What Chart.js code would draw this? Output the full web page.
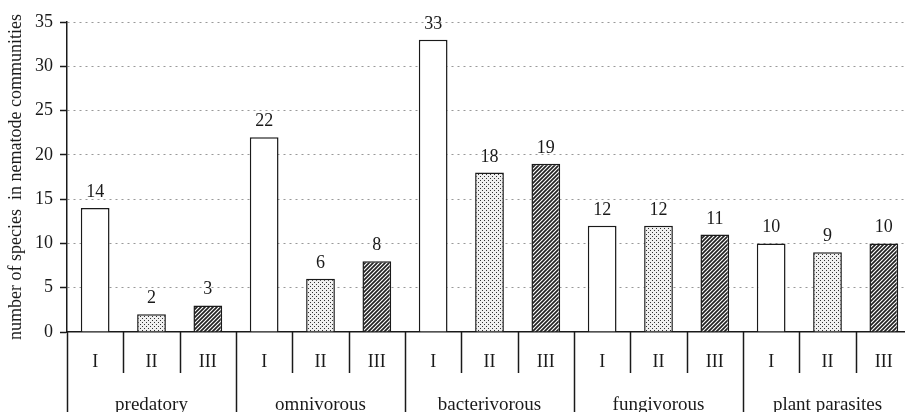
<!DOCTYPE html>
<html>
<head>
<meta charset="utf-8">
<title>Nematode communities</title>
<script src="https://cdn.jsdelivr.net/npm/chart.js@4.4.1/dist/chart.umd.min.js"></script>
<style>
    html, body { margin: 0; padding: 0; background: #fff; overflow: hidden; }
    #wrap { width: 912px; height: 412px; }
</style>
</head>
<body>
<div id="wrap"><canvas id="speciesChart" width="912" height="412"></canvas></div>
<script>
// ---------------- Data ----------------
const groups = ["predatory", "omnivorous", "bacterivorous", "fungivorous", "plant parasites"];
const subLabels = ["I", "II", "III"];
const seriesI = [14, 22, 33, 12, 10];
const seriesII = [2, 6, 18, 12, 9];
const seriesIII = [3, 8, 19, 11, 10];
const yTicks = [0, 5, 10, 15, 20, 25, 30, 35];

const FONT = "'Liberation Serif', 'DejaVu Serif', serif";
const INK = "#1a1a1a";

// ---------------- Fill Patterns ----------------
function dotPattern() {
    const c = document.createElement("canvas");
    c.width = 4; c.height = 4;
    const g = c.getContext("2d");
    g.fillStyle = "#f0f0f0";
    g.fillRect(0, 0, 4, 4);
    g.fillStyle = "#333";
    g.fillRect(0, 0, 1, 1);
    g.fillRect(2, 2, 1, 1);
    return g.createPattern(c, "repeat");
}

function hatchPattern() {
    const c = document.createElement("canvas");
    c.width = 4; c.height = 4;
    const g = c.getContext("2d");
    g.fillStyle = "#fff";
    g.fillRect(0, 0, 4, 4);
    g.strokeStyle = "#222";
    g.lineWidth = 1.7;
    g.beginPath();
    g.moveTo(-1, 5); g.lineTo(5, -1);
    g.moveTo(-1, 1); g.lineTo(1, -1);
    g.moveTo(3, 5); g.lineTo(5, 3);
    g.stroke();
    return g.createPattern(c, "repeat");
}

// ---------------- Build flat category list ----------------
const labels = [];
const values = [];
const fills = [];
const seriesList = [seriesI, seriesII, seriesIII];

document.addEventListener("DOMContentLoaded", () => {

    const fillBySeries = ["#fff", dotPattern(), hatchPattern()];

    groups.forEach((grp, gi) => {
        subLabels.forEach((sub, si) => {
            labels.push(sub);
            values.push(seriesList[si][gi]);
            fills.push(fillBySeries[si]);
        });
    });

    // ---------------- Value labels above bars ----------------
    const valueLabels = {
        id: "valueLabels",
        afterDatasetsDraw(chart) {
            const ctx = chart.ctx;
            const meta = chart.getDatasetMeta(0);
            ctx.save();
            ctx.font = "18px " + FONT;
            ctx.fillStyle = INK;
            ctx.textAlign = "center";
            ctx.textBaseline = "alphabetic";
            meta.data.forEach((bar, i) => {
                ctx.fillText(String(values[i]), bar.x, bar.y - 11);
            });
            ctx.restore();
        }
    };

    // ---------------- Two level category axis ----------------
    const groupAxis = {
        id: "groupAxis",
        afterDraw(chart) {
            const ctx = chart.ctx;
            const xs = chart.scales.x;
            const area = chart.chartArea;
            const step = (area.right - area.left) / labels.length;
            ctx.save();
            ctx.strokeStyle = INK;
            ctx.lineWidth = 1.5;
            for (let i = 0; i <= labels.length; i++) {
                const x = Math.round(area.left + i * step) + 0.5;
                const yEnd = (i % 3 === 0) ? chart.height : area.bottom + 41;
                ctx.beginPath();
                ctx.moveTo(x, area.bottom);
                ctx.lineTo(x, yEnd);
                ctx.stroke();
            }
            ctx.font = "19px " + FONT;
            ctx.fillStyle = INK;
            ctx.textAlign = "center";
            ctx.textBaseline = "alphabetic";
            groups.forEach((grp, gi) => {
                const cx = xs.getPixelForValue(gi * 3 + 1);
                ctx.fillText(grp, cx, area.bottom + 78);
            });
            ctx.restore();
        }
    };

    // ---------------- Create Chart ----------------
    const canvas = document.getElementById("speciesChart");
    new Chart(canvas.getContext("2d"), {
        type: "bar",
        data: {
            labels: labels,
            datasets: [{
                data: values,
                backgroundColor: fills,
                borderColor: INK,
                borderWidth: 1.5,
                borderSkipped: "bottom",
                barPercentage: 0.51,
                categoryPercentage: 1.0
            }]
        },
        options: {
            responsive: false,
            animation: false,
            layout: { padding: { top: 22, right: 0, bottom: 0, left: 0 } },
            plugins: {
                legend: { display: false },
                tooltip: { enabled: false }
            },
            scales: {
                x: {
                    offset: true,
                    grid: { display: false, drawTicks: false },
                    border: { display: true, color: INK, width: 1.5 },
                    ticks: {
                        color: INK,
                        padding: 19,
                        maxRotation: 0,
                        autoSkip: false,
                        font: { family: FONT, size: 18 }
                    },
                    afterFit(scale) { scale.height = 80; }
                },
                y: {
                    min: 0,
                    max: 35,
                    afterBuildTicks(scale) {
                        scale.ticks = yTicks.map(v => ({ value: v }));
                    },
                    grid: {
                        color: ctx => (ctx.tick && ctx.tick.value === 0) ? "rgba(0,0,0,0)" : "#999",
                        lineWidth: 1,
                        tickLength: 7,
                        tickColor: INK,
                        tickWidth: 1.5,
                        tickBorderDash: []
                    },
                    border: { display: true, color: INK, width: 1.5, dash: [2, 4] },
                    ticks: {
                        color: INK,
                        padding: 7,
                        font: { family: FONT, size: 18 }
                    },
                    title: {
                        display: true,
                        text: "number of species  in nematode communities",
                        color: INK,
                        padding: { top: 5, bottom: 0 },
                        font: { family: FONT, size: 18 }
                    },
                    afterFit(scale) { scale.width = 67; }
                }
            }
        },
        plugins: [valueLabels, groupAxis]
    });

});
</script>
</body>
</html>
